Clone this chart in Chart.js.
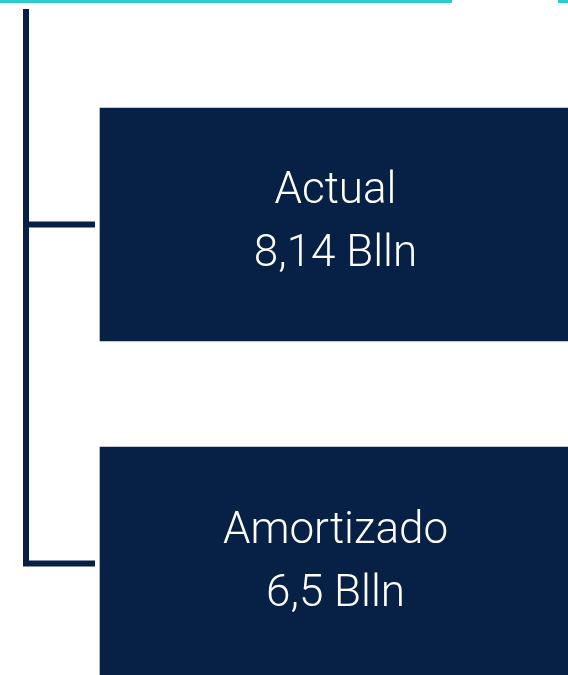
<!DOCTYPE html>
<html>
<head>
<meta charset="utf-8">
<script src="https://cdn.jsdelivr.net/npm/chart.js@4"></script>
<style>
  html, body { margin: 0; padding: 0; background: #ffffff; overflow: hidden; }
  #wrap { width: 568px; height: 675px; }
</style>
</head>
<body>
<div id="wrap"><canvas id="c" width="568" height="675"></canvas></div>
<script>
// ---- data ----
const categories = ['Actual', 'Amortizado'];
const values = [8.14, 6.5];
const unit = 'Blln';

// ---- styles / layout ----
const NAVY = '#072146';
const AQUA = '#2DCCCD';
const BOX_FROM = 100;   // x extent of the node boxes (x-scale units = px)
const BOX_TO = 571;

const fmt = v => String(v).replace('.', ',') + ' ' + unit;

const treePlugin = {
  id: 'tree',
  beforeDatasetsDraw(chart) {
    const ctx = chart.ctx;
    const meta = chart.getDatasetMeta(0);
    const ys = meta.data.map(b => b.y);
    ctx.save();
    // top aqua rule
    ctx.fillStyle = AQUA;
    ctx.fillRect(0, 0, 452, 3);
    ctx.fillRect(558, 0, 20, 3);
    // connectors
    ctx.strokeStyle = NAVY;
    ctx.lineWidth = 6;
    ctx.lineCap = 'butt';
    ctx.lineJoin = 'miter';
    const xTrunk = 26, xEnd = 95;
    const last = ys[ys.length - 1];
    ctx.beginPath();
    ctx.moveTo(xTrunk, 9);
    ctx.lineTo(xTrunk, last);
    ctx.lineTo(xEnd, last);
    ctx.stroke();
    ys.slice(0, -1).forEach(y => {
      ctx.beginPath();
      ctx.moveTo(xTrunk, y);
      ctx.lineTo(xEnd, y);
      ctx.stroke();
    });
    ctx.restore();
  },
  afterDatasetsDraw(chart) {
    const ctx = chart.ctx;
    const meta = chart.getDatasetMeta(0);
    ctx.save();
    ctx.fillStyle = '#ffffff';
    ctx.textAlign = 'center';
    ctx.textBaseline = 'alphabetic';
    ctx.font = '300 44px Roboto';
    meta.data.forEach((bar, i) => {
      const cx = (bar.base + bar.x) / 2;
      ctx.fillText(categories[i], cx, bar.y - 21);
      ctx.fillText(fmt(values[i]), cx, bar.y + 42);
    });
    ctx.restore();
  }
};

new Chart(document.getElementById('c'), {
  type: 'bar',
  data: {
    datasets: [{
      label: 'Nodos',
      data: categories.map((c, i) => ({ y: i, x: [BOX_FROM, BOX_TO] })),
      backgroundColor: NAVY,
      borderWidth: 0,
      barThickness: 233
    }]
  },
  options: {
    indexAxis: 'y',
    responsive: false,
    devicePixelRatio: 1,
    animation: false,
    layout: { padding: 0 },
    plugins: { legend: { display: false }, tooltip: { enabled: false } },
    scales: {
      x: { type: 'linear', min: 0, max: 568, display: false, offset: false },
      y: { type: 'linear', min: -0.6622, max: 1.3289, reverse: true, display: false, offset: false }
    }
  },
  plugins: [treePlugin]
});
</script>
</body>
</html>
